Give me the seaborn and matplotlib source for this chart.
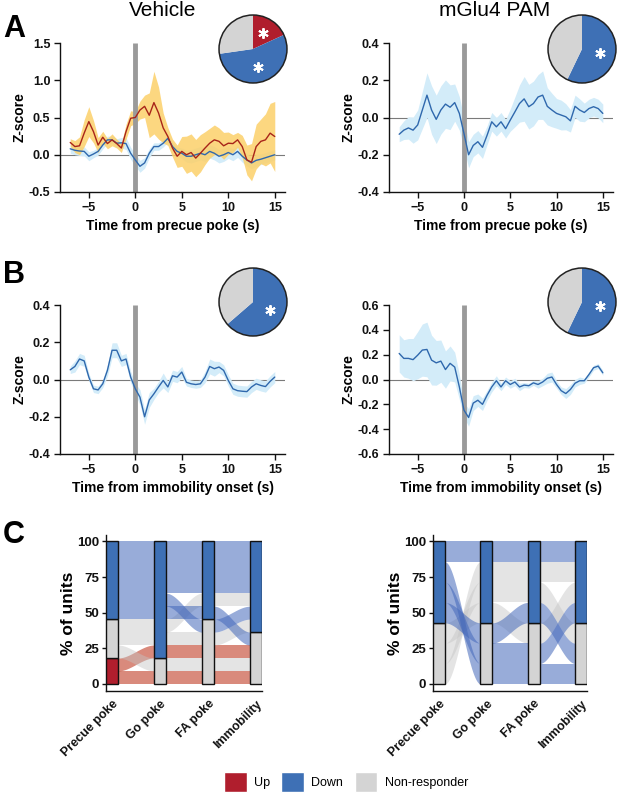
import numpy as np
import matplotlib
matplotlib.use('Agg')
import matplotlib.pyplot as plt
import seaborn as sns
from matplotlib.patches import Patch, Circle
from matplotlib.ticker import FormatStrFormatter

# ── Data ───────────────────────────────────────────────────
t = np.arange(-7, 15.01, 0.5)

veh_precue_up_mean = [0.165, 0.11, 0.12, 0.29, 0.445, 0.31, 0.13, 0.235, 0.15, 0.20,
                      0.15, 0.09, 0.31, 0.49, 0.50, 0.60, 0.65, 0.53, 0.70, 0.56,
                      0.36, 0.245, 0.09, -0.02, 0.045, 0.0, 0.03, -0.045, 0.02, 0.09,
                      0.155, 0.20, 0.18, 0.12, 0.155, 0.15, 0.20, 0.11, -0.07, -0.10,
                      0.11, 0.18, 0.20, 0.29, 0.245]
veh_precue_up_sem = [0.05, 0.08, 0.12, 0.18, 0.20, 0.15, 0.10, 0.08, 0.07, 0.08,
                     0.06, 0.06, 0.10, 0.10, 0.08, 0.12, 0.15, 0.30, 0.42, 0.35,
                     0.20, 0.12, 0.12, 0.15, 0.20, 0.25, 0.25, 0.25, 0.25, 0.22,
                     0.20, 0.20, 0.18, 0.18, 0.15, 0.12, 0.10, 0.15, 0.20, 0.25,
                     0.30, 0.30, 0.35, 0.40, 0.47]
veh_precue_down_mean = [0.08, 0.06, 0.05, 0.045, -0.02, 0.01, 0.045, 0.13, 0.20, 0.20,
                        0.155, 0.16, 0.15, 0.02, -0.07, -0.155, -0.11, 0.02, 0.11, 0.11,
                        0.155, 0.22, 0.11, 0.045, 0.02, -0.02, -0.02, 0.0, 0.02, 0.0,
                        0.045, 0.02, -0.02, 0.0, 0.03, 0.0, 0.045, -0.02, -0.07, -0.11,
                        -0.075, -0.06, -0.04, -0.02, 0.0]
veh_precue_down_sem = [0.06, 0.06, 0.06, 0.06, 0.06, 0.05, 0.05, 0.05, 0.05, 0.05,
                       0.06, 0.07, 0.08, 0.08, 0.08, 0.08, 0.07, 0.06, 0.05, 0.05,
                       0.05, 0.05, 0.05, 0.06, 0.07, 0.08, 0.09, 0.09, 0.09, 0.09,
                       0.09, 0.09, 0.09, 0.09, 0.08, 0.08, 0.08, 0.08, 0.08, 0.08,
                       0.08, 0.07, 0.07, 0.07, 0.07]
pam_precue_mean = [-0.09, -0.068, -0.056, -0.068, -0.04, 0.04, 0.12, 0.04, -0.01, 0.04,
                   0.072, 0.055, 0.08, 0.022, -0.086, -0.20, -0.15, -0.13, -0.16, -0.095,
                   -0.023, -0.05, -0.023, -0.06, -0.014, 0.03, 0.075, 0.10, 0.058, 0.075,
                   0.11, 0.12, 0.06, 0.04, 0.022, 0.013, 0.004, -0.018, 0.06, 0.04,
                   0.027, 0.048, 0.058, 0.048, 0.022]
pam_precue_sem = [0.04, 0.05, 0.06, 0.07, 0.08, 0.10, 0.12, 0.13, 0.13, 0.13,
                  0.13, 0.12, 0.10, 0.09, 0.08, 0.07, 0.06, 0.06, 0.06, 0.05,
                  0.05, 0.05, 0.05, 0.05, 0.06, 0.08, 0.10, 0.12, 0.12, 0.12,
                  0.12, 0.13, 0.10, 0.09, 0.08, 0.08, 0.07, 0.06, 0.06, 0.06,
                  0.05, 0.05, 0.05, 0.05, 0.05]
veh_immob_mean = [0.052, 0.07, 0.11, 0.10, 0.013, -0.05, -0.056, -0.023, 0.049, 0.157,
                  0.157, 0.10, 0.11, 0.013, -0.05, -0.095, -0.20, -0.11, -0.077, -0.04,
                  -0.005, -0.04, 0.02, 0.013, 0.04, -0.015, -0.023, -0.027, -0.023, 0.013,
                  0.07, 0.058, 0.067, 0.049, -0.005, -0.05, -0.06, -0.063, -0.065, -0.04,
                  -0.023, -0.032, -0.038, -0.01, 0.013]
veh_immob_sem = [0.02, 0.03, 0.03, 0.03, 0.02, 0.02, 0.02, 0.02, 0.03, 0.04,
                 0.04, 0.03, 0.03, 0.03, 0.03, 0.04, 0.04, 0.04, 0.03, 0.03,
                 0.04, 0.03, 0.03, 0.03, 0.03, 0.02, 0.02, 0.02, 0.02, 0.03,
                 0.04, 0.04, 0.03, 0.03, 0.03, 0.03, 0.03, 0.03, 0.03, 0.03,
                 0.03, 0.03, 0.03, 0.03, 0.03]
pam_immob_mean = [0.21, 0.17, 0.17, 0.16, 0.196, 0.237, 0.242, 0.156, 0.134, 0.148,
                  0.08, 0.13, 0.10, -0.06, -0.247, -0.306, -0.19, -0.167, -0.20, -0.126,
                  -0.06, -0.01, -0.06, -0.01, -0.04, -0.02, -0.06, -0.045, -0.05, -0.027,
                  -0.04, -0.02, 0.01, 0.02, -0.04, -0.09, -0.113, -0.08, -0.03, -0.01,
                  -0.01, 0.04, 0.095, 0.108, 0.054]
pam_immob_sem = [0.15, 0.15, 0.16, 0.17, 0.19, 0.21, 0.22, 0.20, 0.18, 0.17,
                 0.15, 0.14, 0.12, 0.10, 0.06, 0.07, 0.06, 0.05, 0.05, 0.04,
                 0.04, 0.04, 0.03, 0.03, 0.03, 0.03, 0.03, 0.02, 0.02, 0.02,
                 0.03, 0.03, 0.04, 0.04, 0.03, 0.03, 0.04, 0.04, 0.03, 0.03,
                 0.02, 0.02, 0.02, 0.02, 0.02]

# pie counts (Up, Down, Non-responder)
veh_precue_pie = [2, 6, 3]
pam_precue_pie = [0, 4, 3]
veh_immob_pie = [0, 7, 4]
pam_immob_pie = [0, 4, 3]
veh_precue_sig = [True, True, False]
pam_precue_sig = [False, True, False]
veh_immob_sig = [False, True, False]
pam_immob_sig = [False, True, False]

# alluvial: stages, per-stage counts (Up, NR, Down), per-unit stack slot at each stage
stages = ['Precue poke', 'Go poke', 'FA poke', 'Immobility']
veh_counts = [[2, 3, 6], [0, 2, 9], [0, 5, 6], [0, 4, 7]]
veh_unit_class = ['Up', 'Up', 'NR', 'NR', 'NR', 'Down', 'Down', 'Down', 'Down', 'Down', 'Down']
veh_unit_slots = [[0, 0, 0, 0], [1, 2, 2, 2], [2, 1, 1, 1], [3, 3, 3, 4], [4, 4, 6, 6],
                  [5, 5, 5, 3], [6, 6, 4, 5], [7, 7, 7, 7], [8, 8, 8, 8], [9, 9, 9, 9],
                  [10, 10, 10, 10]]
pam_counts = [[0, 3, 4], [0, 3, 4], [0, 3, 4], [0, 3, 4]]
pam_unit_class = ['NR', 'NR', 'NR', 'Down', 'Down', 'Down', 'Down']
pam_unit_slots = [[0, 5, 5, 5], [1, 4, 4, 2], [2, 3, 2, 4], [3, 2, 3, 1],
                  [4, 1, 1, 3], [5, 0, 0, 0], [6, 6, 6, 6]]

# ── Style ──────────────────────────────────────────────────
sns.set_style('ticks')
plt.rcParams['font.family'] = ['Liberation Sans', 'DejaVu Sans']
plt.rcParams.update({'axes.linewidth': 1.0, 'axes.edgecolor': '#111111',
                     'xtick.color': '#111111', 'ytick.color': '#111111',
                     'text.color': 'black', 'axes.labelcolor': 'black'})

bar_col = {'Up': '#b01e2d', 'Down': '#3e70b5', 'NR': '#d4d4d4'}
flow_col = {'Up': '#c03c25', 'Down': '#4468ba', 'NR': '#c4c4c4'}
flow_alpha = {'Up': 0.6, 'Down': 0.55, 'NR': 0.45}

W, H = 617, 800
fig = plt.figure(figsize=(W / 100, H / 100), dpi=100)


def px_axes(l, t_, r, b):
    return fig.add_axes([l / W, 1 - b / H, (r - l) / W, (b - t_) / H])


def trace_panel(ax, traces, ylim, yticks, xlabel):
    for mean, sem, line_c, band_c, band_a in traces:
        mean = np.array(mean)
        sem = np.array(sem)
        ax.fill_between(t, mean - sem, mean + sem, color=band_c, alpha=band_a, lw=0, zorder=1)
    for mean, sem, line_c, band_c, band_a in traces:
        sns.lineplot(x=t, y=mean, color=line_c, lw=1.0, ax=ax, zorder=3)
    ax.axhline(0, color='#7a7a7a', lw=0.8, zorder=0)
    ax.plot([0, 0], ylim, color='#9a9a9a', lw=3.5, zorder=2, solid_capstyle='butt')
    ax.set_xlim(-8.1, 16.1)
    ax.set_ylim(*ylim)
    ax.set_yticks(yticks)
    ax.set_xticks([-5, 0, 5, 10, 15])
    ax.yaxis.set_major_formatter(FormatStrFormatter('%.1f'))
    sns.despine(ax=ax)
    ax.tick_params(length=4, width=1, labelsize=9, pad=3)
    for lab in ax.get_xticklabels() + ax.get_yticklabels():
        lab.set_fontweight('bold')
    ax.set_xlabel(xlabel, fontsize=10, fontweight='bold', labelpad=4)
    ax.set_ylabel('Z-score', fontsize=10, fontweight='bold')
    ax.yaxis.set_label_coords(-0.15, 0.5)


def pie_panel(cx, cy, counts, sig):
    r = 35
    ax = px_axes(cx - r, cy - r, cx + r, cy + r)
    cats = ['Up', 'Down', 'NR']
    vals = [v for v in counts if v > 0]
    cols = [bar_col[c] for c, v in zip(cats, counts) if v > 0]
    ax.pie(vals, colors=cols, startangle=90, counterclock=False,
           wedgeprops=dict(linewidth=0))
    ax.add_patch(Circle((0, 0), 1, fill=False, ec='#222222', lw=1.1))
    total = sum(counts)
    start = 90.0
    for v, s in zip(counts, sig):
        span = 360.0 * v / total
        if s:
            mid = np.deg2rad(start - span / 2)
            ax.plot(0.55 * np.cos(mid), 0.55 * np.sin(mid), marker=(6, 2, 0),
                    color='white', ms=7.5, mew=1.4)
        start -= span
    ax.set_xlim(-1.03, 1.03)
    ax.set_ylim(-1.03, 1.03)
    ax.set_aspect('equal')
    ax.axis('off')


def alluvial_panel(ax, counts, unit_class, unit_slots):
    n = len(unit_class)
    h = 100.0 / n
    bw = 0.25
    xs_base = np.linspace(0, 1, 60)
    smooth = xs_base * xs_base * (3 - 2 * xs_base)
    for cls, slots in zip(unit_class, unit_slots):
        for i in range(len(stages) - 1):
            x0, x1 = i + bw / 2, i + 1 - bw / 2
            y0, y1 = slots[i] * h, slots[i + 1] * h
            xs = x0 + (x1 - x0) * xs_base
            low = y0 + (y1 - y0) * smooth
            ax.fill_between(xs, low, low + h, color=flow_col[cls], alpha=flow_alpha[cls],
                            lw=0, zorder=1)
    for i, (c_up, c_nr, c_dn) in enumerate(counts):
        bottom = 0
        for cls, c in (('Up', c_up), ('NR', c_nr), ('Down', c_dn)):
            if c > 0:
                ax.bar(i, c * h, bottom=bottom, width=bw, color=bar_col[cls],
                       edgecolor='#111111', lw=1, zorder=3)
            bottom += c * h
    ax.set_xlim(-bw / 2, len(stages) - 1 + bw / 2)
    ax.set_ylim(-5, 104.5)
    ax.set_yticks([0, 25, 50, 75, 100])
    ax.set_xticks(range(len(stages)))
    ax.set_xticklabels(stages, rotation=45, ha='right', rotation_mode='anchor',
                       fontsize=9, fontweight='bold')
    sns.despine(ax=ax)
    ax.tick_params(axis='x', length=0, pad=5)
    ax.tick_params(axis='y', length=3, width=1, labelsize=9.5, pad=2)
    for lab in ax.get_yticklabels():
        lab.set_fontweight('bold')
    ax.set_ylabel('% of units', fontsize=12.5, fontweight='bold', labelpad=1)


# ── Panels A and B ─────────────────────────────────────────
axA1 = px_axes(60, 43, 285, 192)
trace_panel(axA1,
            [(veh_precue_down_mean, veh_precue_down_sem, '#2f68ad', '#d3ecf9', 1.0),
             (veh_precue_up_mean, veh_precue_up_sem, '#a82419', '#fcd06a', 0.85)],
            (-0.5, 1.5), [-0.5, 0.0, 0.5, 1.0, 1.5], 'Time from precue poke (s)')
axA2 = px_axes(389, 43, 613, 192)
trace_panel(axA2, [(pam_precue_mean, pam_precue_sem, '#2f68ad', '#d3ecf9', 1.0)],
            (-0.4, 0.4), [-0.4, -0.2, 0.0, 0.2, 0.4], 'Time from precue poke (s)')
axB1 = px_axes(60, 305, 285, 454)
trace_panel(axB1, [(veh_immob_mean, veh_immob_sem, '#2f68ad', '#d3ecf9', 1.0)],
            (-0.4, 0.4), [-0.4, -0.2, 0.0, 0.2, 0.4], 'Time from immobility onset (s)')
axB2 = px_axes(389, 305, 613, 454)
trace_panel(axB2, [(pam_immob_mean, pam_immob_sem, '#2f68ad', '#d3ecf9', 1.0)],
            (-0.6, 0.6), [-0.6, -0.4, -0.2, 0.0, 0.2, 0.4, 0.6], 'Time from immobility onset (s)')

pie_panel(253, 49, veh_precue_pie, veh_precue_sig)
pie_panel(582, 49, pam_precue_pie, pam_precue_sig)
pie_panel(253, 302, veh_immob_pie, veh_immob_sig)
pie_panel(582, 302, pam_immob_pie, pam_immob_sig)

# ── Panel C ────────────────────────────────────────────────
axC1 = px_axes(106, 535, 262, 691)
alluvial_panel(axC1, veh_counts, veh_unit_class, veh_unit_slots)
axC2 = px_axes(433, 535, 587, 691)
alluvial_panel(axC2, pam_counts, pam_unit_class, pam_unit_slots)

# ── Titles, letters, legend ────────────────────────────────
fig.text(163 / W, 1 - 10 / H, 'Vehicle', fontsize=15, ha='center', va='center')
fig.text(495 / W, 1 - 10 / H, 'mGlu4 PAM', fontsize=15, ha='center', va='center')
for letter, y in (('A', 29), ('B', 275), ('C', 535)):
    fig.text(3 / W, 1 - y / H, letter, fontsize=22, fontweight='bold', ha='left', va='center')

handles = [Patch(facecolor=bar_col['Up'], label='Up'),
           Patch(facecolor=bar_col['Down'], label='Down'),
           Patch(facecolor=bar_col['NR'], label='Non-responder')]
fig.legend(handles=handles, loc='center', bbox_to_anchor=(346 / W, 1 - 782 / H), ncol=3,
           frameon=False, fontsize=9, handlelength=1.8, handleheight=2.0,
           handletextpad=0.6, columnspacing=0.9)

fig.savefig('out.png', dpi=100)
